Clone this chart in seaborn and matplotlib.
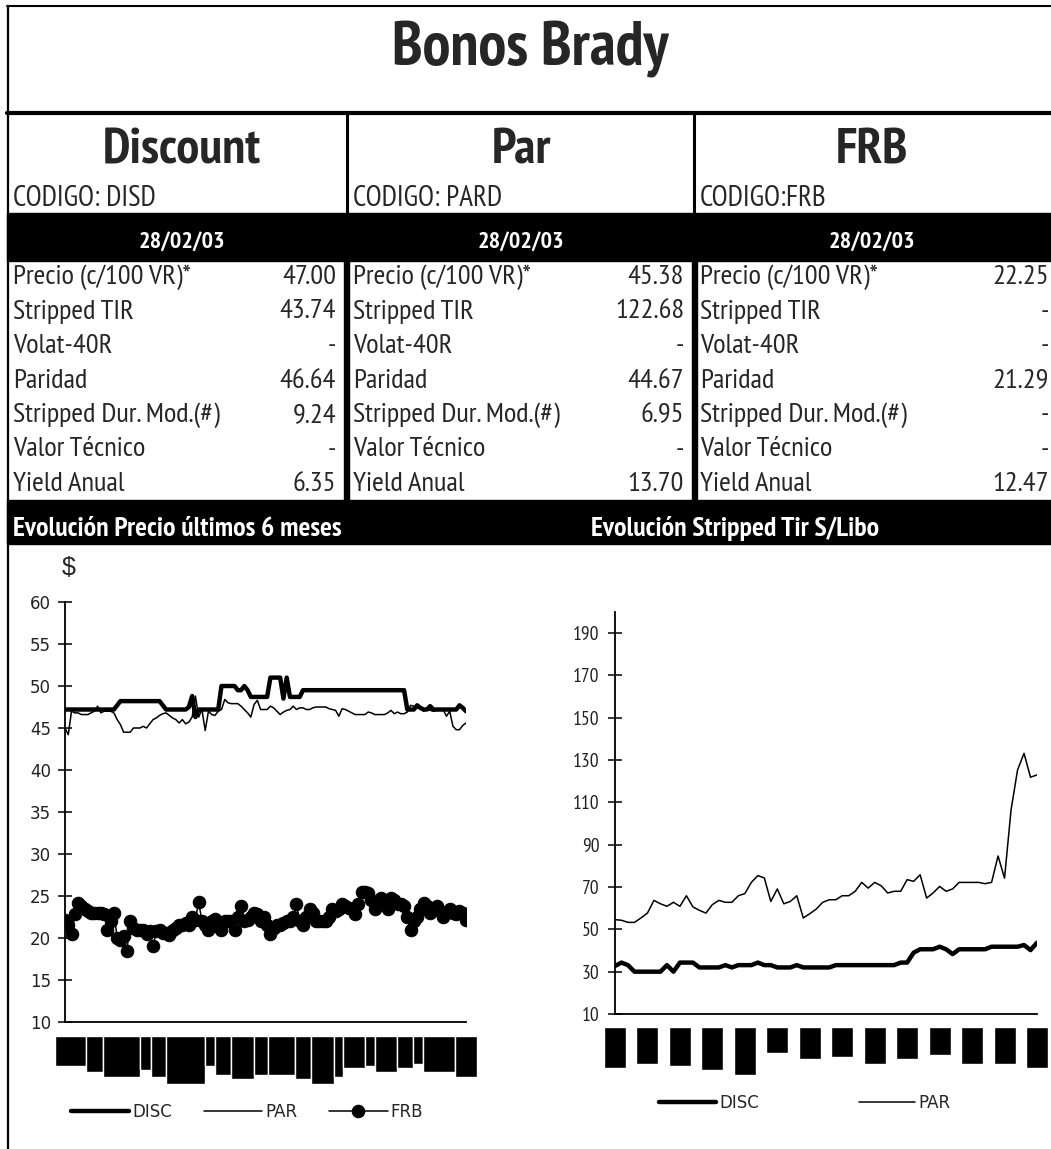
import numpy as np
import pandas as pd
import seaborn as sns
import matplotlib.pyplot as plt
from matplotlib import font_manager
from matplotlib.patches import Rectangle

# ---- datos de la tabla ----
bonos = ['Discount', 'Par', 'FRB']
codigos = ['CODIGO: DISD', 'CODIGO: PARD', 'CODIGO:FRB']
fecha = '28/02/03'
filas = ['Precio (c/100 VR)*', 'Stripped TIR', 'Volat-40R', 'Paridad',
         'Stripped Dur. Mod.(#)', 'Valor Técnico', 'Yield Anual']
valores_disc = ['47.00', '43.74', '-', '46.64', '9.24', '-', '6.35']
valores_par = ['45.38', '122.68', '-', '44.67', '6.95', '-', '13.70']
valores_frb = ['22.25', '-', '-', '21.29', '-', '-', '12.47']

# ---- precios ultimos 6 meses (diario) ----
disc_precio = [
    47.2, 47.2, 47.2, 47.2, 47.2, 47.2, 47.2, 47.2, 47.2, 47.2, 47.2, 47.2, 47.2, 47.2, 47.2, 47.2,
    47.7,
    48.2, 48.2, 48.2, 48.2, 48.2, 48.2, 48.2, 48.2, 48.2, 48.2, 48.2, 48.2, 48.2,
    47.7,
    47.2, 47.2, 47.2, 47.2, 47.2, 47.2, 47.2, 47.5, 48.8, 46.3, 47.2, 47.2, 47.2, 47.2, 47.2, 47.2, 47.2,
    50.0, 50.0, 50.0, 50.0, 50.0,
    49.5, 49.5, 50.0, 49.5,
    48.7, 48.7, 48.7, 48.7, 48.7, 48.7,
    51.0, 51.0, 51.0, 51.0,
    48.5, 51.0,
    48.7, 48.7, 48.7, 48.7,
    49.5, 49.5, 49.5, 49.5, 49.5, 49.5, 49.5, 49.5,
    49.5, 49.5, 49.5, 49.5, 49.5, 49.5, 49.5, 49.5,
    49.5, 49.5, 49.5, 49.5, 49.5, 49.5, 49.5, 49.5,
    49.5, 49.5, 49.5, 49.5, 49.5, 49.5, 49.5, 49.5,
    47.2, 47.2, 47.2, 47.7, 47.4, 47.2, 47.2, 47.6, 47.2, 47.2,
    47.2, 47.2, 47.2, 47.2, 47.2, 47.2, 47.7, 47.4, 47.0,
]
par_precio = [
    45.0, 44.2, 47.0, 46.8, 46.8, 46.6, 46.6, 46.6, 46.8, 47.0,
    47.6, 46.8, 47.0, 47.0, 47.0, 46.8, 46.0, 45.4, 44.5, 44.5,
    44.5, 45.0, 45.0, 45.0, 45.2, 45.0, 45.5, 46.0, 46.2, 46.5,
    46.7, 46.8, 46.5, 46.2, 46.0, 45.6, 46.0, 45.5, 45.7, 46.3,
    48.8, 46.3, 47.2, 44.7, 47.0, 46.6, 46.5, 47.0, 47.2, 48.4,
    48.0, 47.9, 47.9, 47.9, 47.6, 47.2, 46.8, 46.3, 47.8, 48.3,
    47.2, 47.2, 47.2, 47.6, 47.4, 47.0, 46.6, 46.9, 47.1, 47.2,
    47.6, 47.2, 47.4, 47.4, 47.2, 47.2, 47.4, 47.5, 47.5, 47.5,
    47.5, 47.3, 47.2, 47.1, 46.4, 47.3, 47.2, 47.0, 46.8, 46.6,
    46.6, 46.6, 46.6, 46.9, 46.8, 46.6, 46.6, 46.6, 46.6, 46.8,
    47.1, 46.7, 46.9, 46.7, 46.7, 46.9, 47.7, 47.6, 47.4, 47.3,
    47.0, 47.2, 47.1, 47.0, 47.1, 47.2, 47.2, 46.4, 47.0, 45.2,
    44.8, 44.8, 45.3, 45.6,
]
frb_precio = [
    22.2, 21.5, 20.5, 22.8, 24.2, 23.8, 23.5, 23.2, 23.0, 23.0,
    23.0, 23.0, 22.8, 21.0, 22.0, 23.0, 20.0, 19.8, 20.2, 18.5,
    22.0, 21.2, 21.0, 21.0, 21.0, 20.5, 20.8, 19.0, 20.8, 21.0,
    20.6, 20.6, 20.4, 21.0, 21.2, 21.5, 21.5, 21.8, 21.6, 22.5,
    22.2, 24.3, 22.0, 21.5, 21.0, 22.0, 22.3, 21.5, 21.0, 22.0,
    22.0, 22.0, 21.0, 22.5, 23.8, 22.0, 22.2, 22.5, 23.0, 22.8,
    22.0, 22.5, 21.5, 20.5, 21.2, 21.5, 21.5, 21.8, 22.0, 22.0,
    22.5, 24.0, 22.0, 21.5, 22.5, 23.5, 23.0, 22.0, 22.0, 22.0,
    22.0, 22.5, 23.5, 23.2, 23.5, 24.0, 23.8, 23.6, 23.5, 22.8,
    24.0, 25.5, 25.5, 25.3, 24.5, 23.5, 24.0, 24.8, 24.3, 23.5,
    24.8, 24.5, 24.0, 24.0, 23.8, 22.5, 21.0, 22.0, 22.5, 23.5,
    24.2, 23.8, 23.0, 23.5, 23.8, 23.2, 22.5, 23.0, 23.5, 23.0,
    22.8, 23.2, 23.0, 22.2,
]
# bloques de fechas del eje x (etiquetas ilegibles), bordes en dias y largo
fechas_precio_bordes = [-3.1, 6.4, 11.7, 23.0, 26.4, 31.0, 42.9, 46.0, 50.9, 58.0, 62.3,
                        70.6, 75.5, 82.5, 85.3, 92.0, 95.1, 101.8, 106.7, 109.8, 119.6, 126.4]
fechas_precio_largo = [30, 36, 41, 34, 41, 48, 30, 39, 43, 39, 39, 43, 48, 41, 32, 30,
                       36, 32, 28, 36, 41]

# ---- stripped TIR s/Libor ----
disc_tir = [
    32.7, 34.3, 33.1, 30.0, 30.0, 30.0, 30.0, 30.0, 33.1, 30.0,
    34.3, 34.3, 34.3, 32.0, 32.0, 32.0, 32.0, 33.1, 32.0, 33.1,
    33.1, 33.1, 34.3, 33.1, 33.1, 32.0, 32.0, 32.0, 33.1, 32.0,
    32.0, 32.0, 32.0, 32.0, 33.1, 33.1, 33.1, 33.1, 33.1, 33.1,
    33.1, 33.1, 33.1, 33.1, 34.3, 34.3, 39.0, 40.6, 40.6, 40.6,
    41.8, 40.6, 38.3, 40.6, 40.6, 40.6, 40.6, 40.6, 41.8, 41.8,
    41.8, 41.8, 41.8, 42.6, 40.2, 43.7,
]
par_tir = [
    54.6, 54.3, 53.3, 53.3, 55.4, 57.7, 63.7, 62.1, 60.9, 62.8,
    60.9, 65.9, 60.6, 59.0, 57.7, 61.7, 63.7, 62.8, 62.8, 65.9,
    66.9, 72.2, 75.4, 74.3, 63.2, 69.1, 62.1, 63.2, 65.9, 55.4,
    57.4, 59.6, 62.8, 64.0, 64.0, 65.9, 65.9, 68.0, 72.2, 69.5,
    72.2, 70.6, 67.2, 68.0, 68.0, 73.5, 72.7, 75.8, 64.8, 67.2,
    70.3, 68.0, 69.1, 72.2, 72.2, 72.2, 72.2, 71.6, 72.2, 84.7,
    74.2, 106.4, 125.3, 133.2, 121.9, 123.0,
]
fechas_tir_pos = [0, 5, 10, 15, 20, 25, 30, 35, 40, 45, 50, 55, 60, 65]
fechas_tir_largo = [41, 37, 39, 43, 48, 26, 32, 30, 37, 32, 28, 37, 37, 41]

# ---- estilo ----
sns.set_style('white')
fuentes = font_manager.fontManager.ttflist
preferidas = ['Arial Narrow', 'Liberation Sans Narrow', 'PT Sans Narrow', 'Roboto Condensed',
              'Archivo Narrow', 'Fira Sans Condensed', 'IBM Plex Sans Condensed',
              'Encode Sans Condensed', 'Barlow Semi Condensed', 'Pragati Narrow', 'Liberation Sans']
angosta = next(n for n in preferidas if any(f.name == n for f in fuentes))
angosta_bold = next(n for n in preferidas
                    if any(f.name == n and int(f.weight) >= 700 for f in fuentes))
plt.rcParams['font.family'] = [angosta, 'DejaVu Sans']
negrita = dict(family=[angosta_bold, 'DejaVu Sans'], fontweight='bold')

W, H = 1051, 1149
fig = plt.figure(figsize=(W / 100, H / 100), dpi=100)


def caja(x0, y0, x1, y1):
    return [x0 / W, 1 - y1 / H, (x1 - x0) / W, (y1 - y0) / H]


bg = fig.add_axes([0, 0, 1, 1])
bg.set_xlim(0, W)
bg.set_ylim(H, 0)
bg.axis('off')

# marcos y bandas negras
bg.plot([7, W], [6, 6], color='black', lw=1.5)
bg.plot([7.5, 7.5], [6, H], color='black', lw=1.6)
bg.plot([7, W], [113, 113], color='black', lw=3)
for xs in (346.5, 694):
    bg.plot([xs, xs], [113, 213], color='black', lw=2.2)
bg.add_patch(Rectangle((7, 213), W - 7, 48, color='black'))
for xs in (344, 692):
    bg.add_patch(Rectangle((xs, 259), 5, 243, color='black'))
bg.add_patch(Rectangle((7, 500), W - 7, 44, color='black'))

bg.text(530, 66, 'Bonos Brady', ha='center', va='baseline', fontsize=45, **negrita)

centros = [182, 521, 872]
izq = [13, 353, 700]
der = [336, 684, 1049]
for i, (bono, cod, vals) in enumerate(zip(bonos, codigos, [valores_disc, valores_par, valores_frb])):
    bg.text(centros[i], 163, bono, ha='center', va='baseline', fontsize=37, **negrita)
    bg.text(izq[i], 206, cod, ha='left', va='baseline', fontsize=21)
    bg.text(centros[i], 248, fecha, ha='center', va='baseline', fontsize=17.5,
            color='white', **negrita)
    for j, (fila, v) in enumerate(zip(filas, vals)):
        yb = 284 + 34.5 * j
        bg.text(izq[i], yb, fila, ha='left', va='baseline', fontsize=20.5)
        bg.text(der[i], yb, v, ha='right', va='baseline', fontsize=20.5)

bg.text(13, 536, 'Evolución Precio últimos 6 meses', ha='left', va='baseline',
        fontsize=20, color='white', **negrita)
bg.text(735, 536, 'Evolución Stripped Tir S/Libo', ha='center', va='baseline',
        fontsize=20, color='white', **negrita)
bg.text(69, 568, '$', ha='center', va='center', fontsize=18, family='Liberation Sans')

# ---- grafico de precios ----
df_precio = pd.DataFrame({'dia': np.arange(len(disc_precio)), 'DISC': disc_precio,
                          'PAR': par_precio, 'FRB': frb_precio})

ax1 = fig.add_axes(caja(65, 602, 466, 1022))
ax1.patch.set_alpha(0)
sns.lineplot(data=df_precio, x='dia', y='DISC', ax=ax1, color='black', lw=3.2, label='DISC')
sns.lineplot(data=df_precio, x='dia', y='PAR', ax=ax1, color='black', lw=1.1, label='PAR')
sns.lineplot(data=df_precio, x='dia', y='FRB', ax=ax1, color='black', lw=1.1, marker='o',
             markersize=9, markeredgecolor='black', label='FRB')
ax1.set_xlim(0, len(disc_precio) - 1)
ax1.set_ylim(10, 60)
ax1.set_yticks(np.arange(10, 61, 5))
ax1.set_xticks([])
ax1.set_xlabel('')
ax1.set_ylabel('')
ax1.tick_params(axis='y', direction='inout', length=10, width=1.3, pad=5,
                labelsize=12, labelcolor='#222222', left=True)
for lbl in ax1.get_yticklabels():
    lbl.set_family('DejaVu Sans')
sns.despine(ax=ax1)
for s in ('left', 'bottom'):
    ax1.spines[s].set_color('black')
    ax1.spines[s].set_linewidth(1.3)
ax1.legend(loc='center', bbox_to_anchor=(247 / W, 1 - 1112 / H), bbox_transform=fig.transFigure,
           ncol=3, frameon=False, handlelength=3.5, handletextpad=0.2, columnspacing=1.9,
           prop={'family': 'DejaVu Sans', 'size': 12})

axb1 = fig.add_axes(caja(65, 1036, 466, 1086))
axb1.bar(fechas_precio_bordes[:-1], fechas_precio_largo, width=np.diff(fechas_precio_bordes),
         align='edge', color='black', clip_on=False)
axb1.set_xlim(0, len(disc_precio) - 1)
axb1.set_ylim(50, 0)
axb1.axis('off')

# ---- grafico stripped TIR ----
df_tir = pd.DataFrame({'dia': np.arange(len(disc_tir)), 'DISC': disc_tir, 'PAR': par_tir})

ax2 = fig.add_axes(caja(615, 612, 1037, 1014))
ax2.patch.set_alpha(0)
sns.lineplot(data=df_tir, x='dia', y='DISC', ax=ax2, color='black', lw=3.2, label='DISC')
sns.lineplot(data=df_tir, x='dia', y='PAR', ax=ax2, color='black', lw=1.1, label='PAR')
ax2.set_xlim(0, len(disc_tir) - 1)
ax2.set_ylim(10, 200)
ax2.set_yticks(np.arange(10, 191, 20))
ax2.set_xticks([])
ax2.set_xlabel('')
ax2.set_ylabel('')
ax2.tick_params(axis='y', direction='inout', length=10, width=1.3, pad=6,
                labelsize=14, labelcolor='#222222', left=True)
sns.despine(ax=ax2)
for s in ('left', 'bottom'):
    ax2.spines[s].set_color('black')
    ax2.spines[s].set_linewidth(1.3)
ax2.legend(loc='center', bbox_to_anchor=(805 / W, 1 - 1103 / H), bbox_transform=fig.transFigure,
           ncol=2, frameon=False, handlelength=3.4, handletextpad=0.2, columnspacing=6.0,
           prop={'family': 'DejaVu Sans', 'size': 12})

axb2 = fig.add_axes(caja(615, 1027, 1037, 1077))
axb2.bar(fechas_tir_pos, fechas_tir_largo, width=3.4, color='black', clip_on=False)
axb2.set_xlim(0, len(disc_tir) - 1)
axb2.set_ylim(50, 0)
axb2.axis('off')

fig.savefig('out.png', dpi=100)
